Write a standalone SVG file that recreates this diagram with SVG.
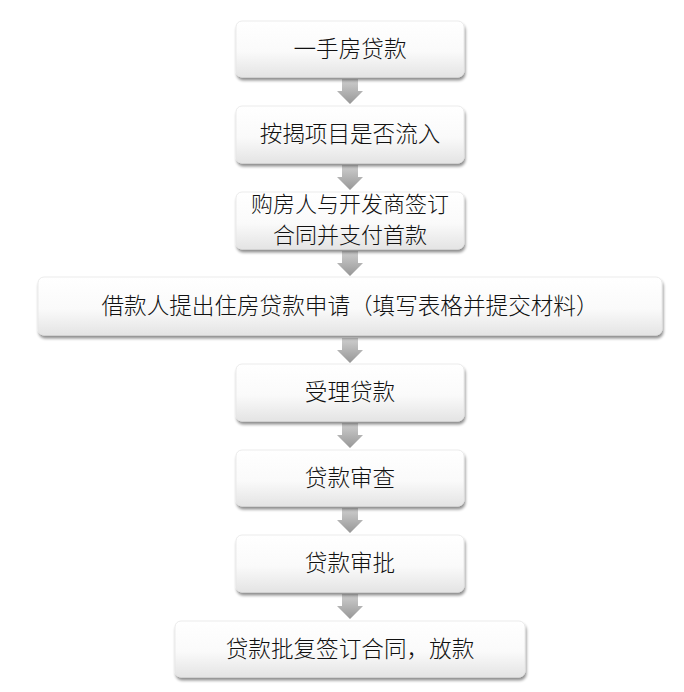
<svg xmlns="http://www.w3.org/2000/svg" width="684" height="692" viewBox="0 0 684 692">
<defs>
<linearGradient id="bg" x1="0" y1="0" x2="0" y2="1">
<stop offset="0" stop-color="#ffffff"/>
<stop offset="0.55" stop-color="#fafafa"/>
<stop offset="1" stop-color="#e4e4e4"/>
</linearGradient>
<linearGradient id="ag" x1="0" y1="0" x2="0" y2="1">
<stop offset="0" stop-color="#cfcfcf"/>
<stop offset="1" stop-color="#979797"/>
</linearGradient>
<filter id="sh" x="-10%" y="-20%" width="120%" height="150%">
<feGaussianBlur in="SourceAlpha" stdDeviation="1.6"/>
<feOffset dx="1" dy="2.5" result="b"/>
<feComponentTransfer><feFuncA type="linear" slope="0.45"/></feComponentTransfer>
<feMerge><feMergeNode/><feMergeNode in="SourceGraphic"/></feMerge>
</filter>
<path id="arr" d="M-8,0 H8 V12 H13 L0,25 L-13,12 H-8 Z"/>
</defs>
<style>
.box{fill:url(#bg);stroke:#e6e6e6;stroke-width:0.8;filter:url(#sh)}
.t{font-family:"Noto Sans CJK SC","Liberation Sans",sans-serif;font-size:22.6px;font-weight:300;fill:#111;text-anchor:middle}
.a{fill:url(#ag)}
</style>
<rect width="684" height="692" fill="#fff"/>
<g id="connectors">
<use href="#arr" class="a" x="350" y="79"/>
<use href="#arr" class="a" x="350" y="165"/>
<use href="#arr" class="a" x="350" y="251"/>
<use href="#arr" class="a" x="350" y="338"/>
<use href="#arr" class="a" x="350" y="423"/>
<use href="#arr" class="a" x="350" y="508"/>
<use href="#arr" class="a" x="350" y="594"/>
</g>
<g id="n1"><rect class="box" x="236" y="21" width="228" height="56" rx="6"/><text class="t" x="350" y="57">一手房贷款</text></g>
<g id="n2"><rect class="box" x="236" y="106" width="228" height="57" rx="6"/><text class="t" x="350" y="142">按揭项目是否流入</text></g>
<g id="n3"><rect class="box" x="236" y="192" width="228" height="57" rx="6"/><text class="t" x="350" y="212" style="font-size:22px">购房人与开发商签订</text><text class="t" x="350" y="243" style="font-size:22px">合同并支付首款</text></g>
<g id="n4"><rect class="box" x="38" y="277" width="624" height="58" rx="6"/><text class="t" x="350" y="314">借款人提出住房贷款申请（填写表格并提交材料）</text></g>
<g id="n5"><rect class="box" x="236" y="364" width="228" height="57" rx="6"/><text class="t" x="350" y="400">受理贷款</text></g>
<g id="n6"><rect class="box" x="236" y="450" width="228" height="56" rx="6"/><text class="t" x="350" y="486">贷款审查</text></g>
<g id="n7"><rect class="box" x="236" y="535" width="228" height="57" rx="6"/><text class="t" x="350" y="571">贷款审批</text></g>
<g id="n8"><rect class="box" x="175" y="621" width="350" height="56" rx="6"/><text class="t" x="350" y="657">贷款批复签订合同，放款</text></g>
</svg>
